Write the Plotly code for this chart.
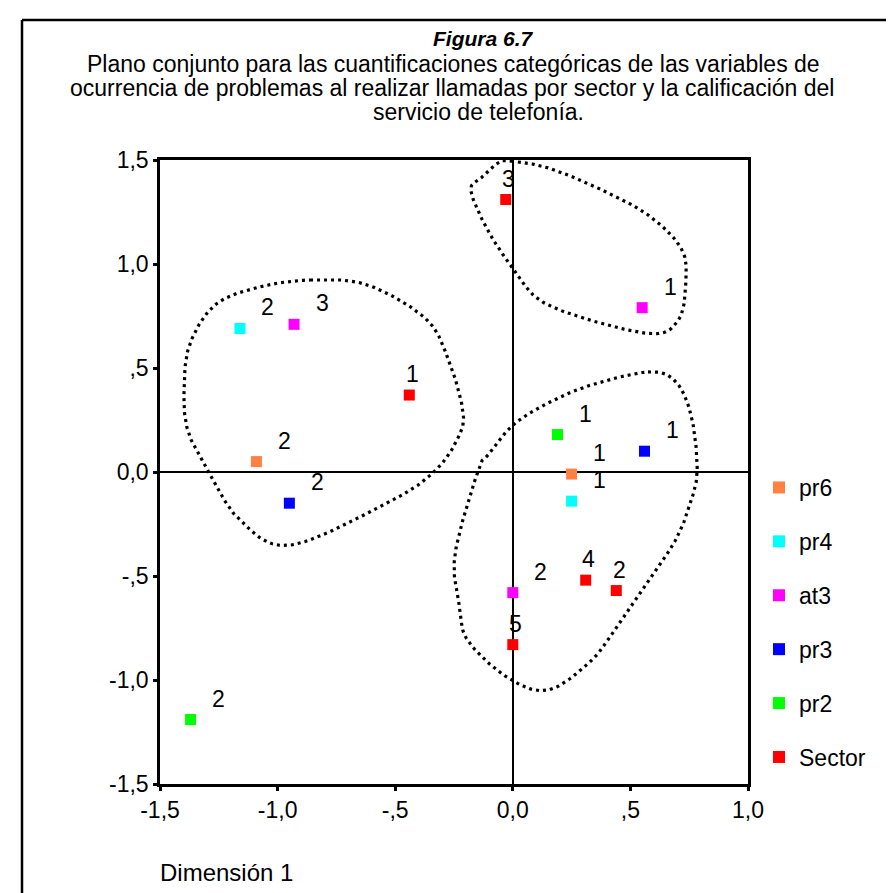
import numpy as np
import plotly.graph_objects as go

# ---------------- data ----------------
series_names = ["pr6", "pr4", "at3", "pr3", "pr2", "Sector"]
series_colors = ["#FF8040", "#00FFFF", "#FF00FF", "#0000FF", "#00FF00", "#FF0000"]

pr6_x = [-1.09, 0.25]
pr6_y = [0.05, -0.01]
pr6_lab = ["2", "1"]

pr4_x = [-1.16, 0.25]
pr4_y = [0.69, -0.14]
pr4_lab = ["2", "1"]

at3_x = [-0.93, 0.55, 0.00]
at3_y = [0.71, 0.79, -0.58]
at3_lab = ["3", "1", "2"]

pr3_x = [-0.95, 0.56]
pr3_y = [-0.15, 0.10]
pr3_lab = ["2", "1"]

pr2_x = [-1.37, 0.19]
pr2_y = [-1.19, 0.18]
pr2_lab = ["2", "1"]

sector_x = [-0.44, -0.03, 0.31, 0.44, 0.00]
sector_y = [0.37, 1.31, -0.52, -0.57, -0.83]
sector_lab = ["1", "3", "4", "2", "5"]

x_ticks = [-1.5, -1.0, -0.5, 0.0, 0.5, 1.0]
x_ticktext = ["-1,5", "-1,0", "-,5", "0,0", ",5", "1,0"]
y_ticks = [-1.5, -1.0, -0.5, 0.0, 0.5, 1.0, 1.5]
y_ticktext = ["-1,5", "-1,0", "-,5", "0,0", ",5", "1,0", "1,5"]

# hand-drawn grouping outlines (control points, data units)
blob_left_x = [-0.862, -0.62, -0.373, -0.276, -0.212, -0.233, -0.331, -0.518, -0.943, -1.156, -1.296, -1.381, -1.398, -1.374, -1.266, -1.083]
blob_left_y = [0.923, 0.90, 0.740, 0.548, 0.293, 0.163, 0.005, -0.139, -0.351, -0.236, 0.005, 0.197, 0.389, 0.612, 0.803, 0.888]

blob_top_x = [-0.008, 0.150, 0.362, 0.575, 0.715, 0.736, 0.702, 0.562, 0.150, 0.001, -0.105, -0.178, -0.135, -0.063]
blob_top_y = [1.495, 1.462, 1.365, 1.236, 1.077, 0.918, 0.726, 0.668, 0.803, 0.981, 1.159, 1.351, 1.413, 1.486]

blob_right_x = [0.575, 0.690, 0.758, 0.784, 0.758, 0.690, 0.562, 0.447, 0.332, 0.150, -0.020, -0.190, -0.225, -0.246, -0.148, -0.105, 0.001, 0.150, 0.332]
blob_right_y = [0.481, 0.438, 0.274, 0.019, -0.139, -0.332, -0.543, -0.736, -0.909, -1.048, -0.990, -0.813, -0.654, -0.399, 0.005, 0.082, 0.226, 0.332, 0.418]

FONT = "Liberation Sans, Arial, sans-serif"
TXT = 23

# ---------------- layout helpers (pixel -> paper) ----------------
W, H = 894, 893
PL, PR, PT, PB = 152, 740, 152, 776


def px_x(px):
    return (px - PL) / (PR - PL)


def px_y(py):
    return (PB - py) / (PB - PT)


def closed_smooth(xs, ys, n=24):
    pts = np.column_stack([xs, ys])
    m = len(pts)
    out = []
    for i in range(m):
        p0, p1, p2, p3 = pts[(i - 1) % m], pts[i], pts[(i + 1) % m], pts[(i + 2) % m]
        for t in np.linspace(0, 1, n, endpoint=False):
            t2, t3 = t * t, t * t * t
            out.append(0.5 * ((2 * p1) + (-p0 + p2) * t + (2 * p0 - 5 * p1 + 4 * p2 - p3) * t2 + (-p0 + 3 * p1 - 3 * p2 + p3) * t3))
    out.append(out[0])
    out = np.array(out)
    return out[:, 0], out[:, 1]


fig = go.Figure()

for bx, by in [(blob_left_x, blob_left_y), (blob_top_x, blob_top_y), (blob_right_x, blob_right_y)]:
    cx, cy = closed_smooth(bx, by)
    fig.add_trace(go.Scatter(x=cx, y=cy, mode="lines", showlegend=False, hoverinfo="skip",
                             line=dict(color="black", width=3.2, dash="3px,4px")))

series = [
    (pr6_x, pr6_y, pr6_lab),
    (pr4_x, pr4_y, pr4_lab),
    (at3_x, at3_y, at3_lab),
    (pr3_x, pr3_y, pr3_lab),
    (pr2_x, pr2_y, pr2_lab),
    (sector_x, sector_y, sector_lab),
]

annotations = []
for i, (name, color, (xs, ys, labs)) in enumerate(zip(series_names, series_colors, series)):
    fig.add_trace(go.Scatter(x=xs, y=ys, mode="markers", name=name, legendgroup=name,
                             marker=dict(symbol="square", size=11, color=color, line=dict(width=0))))
    xshift = 3 if name == "Sector" else 28
    for x, y, t in zip(xs, ys, labs):
        annotations.append(dict(x=x, y=y, xref="x", yref="y", text=t, showarrow=False,
                                xshift=xshift, yshift=21, font=dict(family=FONT, size=TXT, color="black")))

# titles
annotations.append(dict(xref="paper", yref="paper", x=px_x(476), y=px_y(30), text="<b><i>Figura 6.7</i></b>",
                        showarrow=False, xanchor="center", yanchor="middle", font=dict(family=FONT, size=21, color="black")))
sub_lines = ["Plano conjunto para las cuantificaciones categóricas de las variables de",
             "ocurrencia de problemas al realizar llamadas por sector y la calificación del",
             "servicio de telefonía."]
sub_cx = [445, 444, 470]
sub_cy = [56, 80, 104]
for t, cx, cy in zip(sub_lines, sub_cx, sub_cy):
    annotations.append(dict(xref="paper", yref="paper", x=px_x(cx), y=px_y(cy), text=t, showarrow=False,
                            xanchor="center", yanchor="middle", font=dict(family=FONT, size=23, color="black")))

annotations.append(dict(xref="paper", yref="paper", x=px_x(150), y=px_y(864), text="Dimensión 1", showarrow=False,
                        xanchor="left", yanchor="middle", font=dict(family=FONT, size=24, color="black")))

shapes = [
    dict(type="line", xref="paper", yref="paper", x0=px_x(14), y0=px_y(12), x1=px_x(W + 10), y1=px_y(12),
         line=dict(color="black", width=2.5)),
    dict(type="line", xref="paper", yref="paper", x0=px_x(14), y0=px_y(12), x1=px_x(14), y1=px_y(H + 10),
         line=dict(color="black", width=2.5)),
]

axis_common = dict(showgrid=False, zeroline=True, zerolinecolor="black", zerolinewidth=1.6,
                   showline=True, linecolor="black", linewidth=2.5, mirror=True,
                   ticks="outside", ticklen=4, tickwidth=3, tickcolor="black",
                   tickfont=dict(family=FONT, size=TXT, color="black"))

fig.update_layout(
    width=W, height=H,
    margin=dict(l=PL, r=W - PR, t=PT, b=H - PB),
    paper_bgcolor="white", plot_bgcolor="white",
    xaxis=dict(range=[-1.5, 1.0], tickvals=x_ticks, ticktext=x_ticktext, **axis_common),
    yaxis=dict(range=[-1.5, 1.5], tickvals=y_ticks, ticktext=y_ticktext, **axis_common),
    legend=dict(x=px_x(751), y=px_y(458), xanchor="left", yanchor="top", traceorder="grouped",
                tracegroupgap=21, font=dict(family=FONT, size=TXT, color="black"),
                bgcolor="rgba(0,0,0,0)", itemsizing="constant"),
    annotations=annotations,
    shapes=shapes,
    showlegend=True,
)

fig.write_html("out.html")
